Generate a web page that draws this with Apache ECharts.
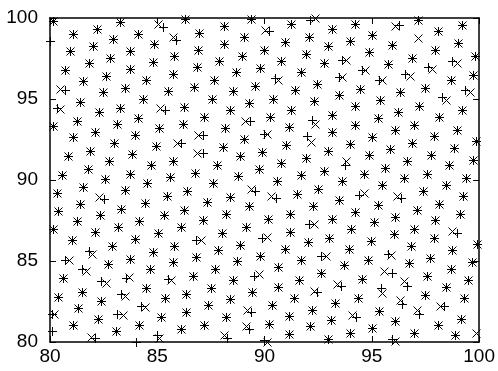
<!DOCTYPE html>
<html>
<head>
<meta charset="utf-8">
<script src="https://cdn.jsdelivr.net/npm/echarts@6/dist/echarts.min.js"></script>
<style>
  html, body { margin: 0; padding: 0; background: #fff; }
  #chart { width: 498px; height: 371px; }
</style>
</head>
<body>
<div id="chart"></div>
<script>
// Points where the "+" and "x" samples coincide
const sharedPts = [
  [80.15,99.79],[81.08,99.03],[82.17,99.32],[83.25,99.75],[84.10,99.03],[86.29,99.96],[82.01,98.29],[82.94,98.70],
  [80.93,97.94],[83.71,97.94],[84.87,98.40],[81.82,97.22],[82.78,97.53],[80.70,96.77],[83.71,96.85],[84.79,97.26],
  [85.80,97.63],[81.55,96.09],[82.63,96.44],[84.49,96.19],[85.72,96.56],[82.47,95.41],[83.48,95.68],[85.49,95.47],
  [89.36,99.94],[88.09,99.48],[91.22,99.65],[86.96,99.07],[89.05,98.83],[92.06,98.83],[88.09,98.41],[90.94,98.52],
  [92.95,98.25],[86.88,98.04],[89.98,98.04],[88.97,97.67],[91.91,97.80],[87.89,97.32],[90.78,97.32],[92.76,97.22],
  [86.85,96.98],[89.79,96.91],[88.69,96.67],[91.68,96.67],[87.66,96.15],[92.45,95.94],[86.70,95.74],[89.56,95.82],
  [88.51,95.51],[91.40,95.53],
  [93.15,99.32],[94.23,99.65],[97.17,99.90],[99.18,99.59],[95.00,98.97],[98.10,99.17],[94.00,98.56],[99.03,98.46],
  [95.93,98.35],[94.85,97.88],[97.94,98.04],[99.80,97.63],[96.86,97.53],[95.74,97.18],[98.71,96.19],[99.72,96.50],
  [94.46,95.62],[97.48,95.68],[96.32,95.41],[93.46,95.27],
  [81.39,94.81],[84.33,95.02],[83.25,94.44],[86.26,94.48],[80.15,93.31],[81.24,93.66],[82.29,94.20],[84.10,93.83],
  [83.12,93.46],[85.10,93.21],[86.22,93.46],[81.05,92.63],[82.09,92.96],[83.94,92.75],[82.97,92.28],[84.92,92.07],
  [81.86,91.81],[83.84,91.60],[80.85,91.46],[82.75,91.15],[84.72,90.94],[85.72,91.15],[81.78,90.70],[83.71,90.37],
  [80.54,90.33],[82.55,90.08],[85.57,90.16],
  [87.53,95.02],[90.41,95.02],[89.28,94.75],[92.30,94.85],[88.40,94.34],[91.24,94.34],[87.19,93.86],[90.26,93.86],
  [88.15,93.21],[91.14,93.25],[89.02,92.55],[93.13,92.96],[90.98,92.14],[88.04,92.01],[89.90,91.73],[88.86,91.46],
  [91.91,91.36],[92.95,91.81],[90.78,91.05],[87.78,90.90],[89.74,90.70],[86.76,90.43],[88.74,90.22],[91.68,90.33],
  [92.76,90.53],[90.56,89.93],
  [95.39,94.96],[94.23,94.54],[96.24,94.20],[97.20,94.54],[99.18,94.34],[93.15,94.03],[95.28,93.83],[98.13,93.86],
  [94.20,93.37],[96.06,93.10],[96.98,93.37],[98.95,93.10],[95.00,92.63],[97.91,92.69],[99.87,92.38],[94.00,92.22],
  [95.86,91.93],[96.89,92.28],[98.84,91.98],[94.88,91.56],[97.76,91.56],[96.63,91.19],[99.72,91.25],[95.62,90.74],
  [98.59,90.90],[94.62,90.37],[97.55,90.37],[93.61,89.93],[96.52,90.12],[99.41,90.12],
  [84.52,89.83],[81.52,89.57],[83.48,89.36],[80.34,89.20],[85.44,89.03],[86.38,89.31],[81.39,88.54],[84.45,88.58],
  [80.39,88.06],[83.33,88.21],[86.26,88.17],[82.35,87.86],[85.29,87.86],[81.24,87.44],[84.14,87.44],[80.15,86.98],
  [83.17,87.10],[86.11,87.10],[82.09,86.77],[85.03,86.73],[81.01,86.31],[83.94,86.36],[82.91,85.94],[85.80,85.94],
  [84.79,85.53],[83.71,85.12],[82.71,84.83],[85.72,84.91],
  [87.61,89.83],[92.48,89.44],[88.40,88.95],[91.49,89.15],[87.32,88.62],[89.28,88.37],[92.26,88.37],[88.20,87.92],
  [91.18,87.92],[87.11,87.51],[90.16,87.59],[89.13,87.10],[91.18,86.77],[88.00,86.73],[92.02,86.15],[92.99,86.42],
  [88.86,86.01],[87.84,85.65],[90.94,85.74],[86.81,85.25],[89.79,85.28],[88.71,84.98],[91.68,85.04],
  [95.47,89.71],[98.44,89.71],[97.36,89.30],[99.26,89.03],[93.46,88.74],[95.28,88.48],[98.13,88.54],[94.20,88.00],
  [97.09,88.12],[99.10,87.92],[93.13,87.61],[96.09,87.72],[95.08,87.38],[97.94,87.51],[94.05,86.98],[96.98,86.98],
  [96.01,86.69],[94.97,86.21],[97.91,86.42],[99.92,86.07],[93.95,85.74],[96.83,85.94],[98.75,85.70],[97.71,85.19],
  [94.82,85.04],[93.69,84.77],[96.71,84.88],[99.68,84.91],
  [84.64,84.52],[80.62,83.96],[80.39,82.75],[81.47,83.09],[84.49,83.33],[85.34,82.72],[82.40,82.55],[86.36,82.96],
  [81.31,82.10],[82.24,81.44],[85.18,81.52],[86.36,81.87],[81.08,81.02],[84.14,81.02],[83.06,80.65],[86.11,80.82],
  [87.69,84.52],[90.63,84.60],[92.61,84.26],[86.65,84.05],[88.55,83.85],[91.60,83.85],[87.50,83.33],[90.63,83.37],
  [89.43,83.09],[88.40,82.67],[91.37,82.72],[87.38,82.26],[90.36,82.26],[92.22,81.99],[88.20,81.52],[91.14,81.58],
  [87.19,81.07],[90.21,81.11],[92.11,80.96],[91.14,80.49],[92.95,80.20],
  [98.69,84.52],[94.54,83.91],[97.55,84.05],[98.44,83.37],[99.49,83.85],[94.35,82.72],[97.48,82.92],[93.30,82.41],
  [99.30,82.72],[95.35,81.94],[93.09,81.38],[99.15,81.44],[96.09,81.30],[98.10,81.02],[95.00,80.86],[94.00,80.56],
  [96.98,80.56],[98.87,80.41]
];

// "+" samples that sit apart from their "x" partner
const plusOnlyPts = [
  [85.26,99.46],[85.88,98.66],[80.70,95.53],[80.02,98.56],
  [92.14,99.90],[90.21,99.17],[90.49,96.30],
  [96.27,99.59],[93.61,97.43],[98.75,97.32],[94.54,96.81],[97.60,96.98],[93.46,96.36],[95.31,96.19],[96.55,96.56],[99.36,95.53],
  [80.31,94.44],[85.38,94.34],[86.11,92.28],
  [89.33,93.66],[92.22,93.72],[87.11,92.75],[89.98,92.84],[91.99,92.69],[87.11,91.67],
  [98.25,95.10],[93.77,90.94],
  [82.51,88.83],[81.82,85.59],[80.70,85.08],
  [89.55,89.30],[90.52,88.91],[92.06,87.30],[86.81,86.31],[89.90,86.42],[92.64,85.33],
  [94.42,89.09],[96.37,88.89],[98.99,86.73],[95.74,85.45],
  [81.47,84.52],[82.40,83.78],[83.53,83.95],[85.49,83.91],[83.33,82.96],[80.08,81.73],[83.12,81.73],[84.26,82.20],
  [80.08,80.65],[82.09,80.25],[84.98,80.45],[83.99,80.00],
  [89.51,84.05],[92.45,83.09],[89.36,81.85],[89.28,80.78],[88.25,80.25],[89.98,80.10],
  [95.93,84.26],[93.54,83.43],[96.63,83.43],[95.43,83.33],[96.39,82.35],[98.38,82.20],[97.20,81.73],[94.26,81.52],[95.93,80.20]
];

// "x" samples that sit apart from their "+" partner
const crossOnlyPts = [
  [85.03,99.60],[85.72,98.80],[80.46,95.62],
  [92.33,99.99],[90.02,99.28],[90.64,96.19],
  [96.09,99.48],[97.14,98.77],[93.80,97.43],[98.95,97.22],[94.70,96.77],[97.79,96.85],[93.61,96.36],[95.47,96.15],[96.78,96.40],[99.57,95.41],
  [80.46,94.40],[85.14,94.44],[85.91,92.28],
  [89.08,93.66],[92.33,93.46],[86.88,92.75],[90.13,92.84],[92.17,92.35],[86.85,91.67],
  [98.44,94.96],[93.80,91.19],
  [82.29,88.95],[81.98,85.45],[80.90,85.04],
  [89.36,89.44],[90.32,88.99],[92.30,87.30],[87.04,86.31],[90.13,86.48],[92.84,85.33],
  [94.62,89.20],[96.16,88.99],[98.75,86.83],[95.90,85.38],
  [81.67,84.40],[82.60,83.64],[83.68,83.99],[85.65,83.85],[83.48,82.81],[80.19,81.73],[83.40,81.64],[84.45,82.14],
  [81.89,80.28],[85.07,80.25],
  [89.74,84.20],[92.30,83.17],[89.20,81.99],[89.13,80.96],[88.09,80.41],[90.12,80.00],
  [95.55,84.36],[93.38,83.58],[96.52,83.74],[95.47,83.02],[96.32,82.61],[98.18,82.20],[97.09,81.99],[94.07,81.69],[99.87,80.56],[96.06,80.04]
];

const xTickValues = [80, 85, 90, 95, 100];
const yTickValues = [80, 85, 90, 95, 100];

const plusData = sharedPts.concat(plusOnlyPts);
const crossData = sharedPts.concat(crossOnlyPts);

const INK = '#000';
const HALF = 4.5;

function markerItem(kind) {
  return function (params, api) {
    const p = api.coord([api.value(0), api.value(1)]);
    const cx = Math.round(p[0]) + 0.5;
    const cy = Math.round(p[1]) + 0.5;
    const st = { stroke: INK, lineWidth: 1, fill: null };
    let segs;
    if (kind === 'plus') {
      segs = [[cx - HALF, cy, cx + HALF, cy], [cx, cy - HALF, cx, cy + HALF]];
    } else {
      const h = HALF - 0.5;
      segs = [[cx - h, cy - h, cx + h, cy + h], [cx - h, cy + h, cx + h, cy - h]];
    }
    return {
      type: 'group',
      children: segs.map(s => ({
        type: 'line',
        shape: { x1: s[0], y1: s[1], x2: s[2], y2: s[3] },
        style: st
      }))
    };
  };
}

function axisCommon(extra) {
  return Object.assign({
    type: 'value',
    min: 80,
    max: 100,
    interval: 5,
    axisLine: { show: true, onZero: false, lineStyle: { color: INK, width: 1.5 } },
    axisTick: { show: true, inside: true, length: 6, lineStyle: { color: INK, width: 1 } },
    splitLine: { show: false },
    axisLabel: {
      color: INK,
      fontSize: 19,
      fontFamily: '"Liberation Sans", Arial, sans-serif'
    }
  }, extra);
}

const chart = echarts.init(document.getElementById('chart'), null, { renderer: 'canvas' });
chart.setOption({
  animation: false,
  backgroundColor: '#fff',
  grid: { left: 50, right: 17, top: 18, bottom: 29 },
  xAxis: [
    axisCommon({ position: 'bottom', axisLabel: {
      color: INK, fontSize: 19, margin: 5,
      fontFamily: '"Liberation Sans", Arial, sans-serif',
      formatter: v => (xTickValues.indexOf(v) >= 0 ? String(v) : '')
    } }),
    axisCommon({ position: 'top', axisLabel: { show: false } })
  ],
  yAxis: [
    axisCommon({ position: 'left', axisLabel: {
      color: INK, fontSize: 19, margin: 12,
      fontFamily: '"Liberation Sans", Arial, sans-serif',
      formatter: v => (yTickValues.indexOf(v) >= 0 ? String(v) : '')
    } }),
    axisCommon({ position: 'right', axisLabel: { show: false } })
  ],
  series: [
    {
      name: 'plus',
      type: 'custom',
      xAxisIndex: 0,
      yAxisIndex: 0,
      clip: false,
      renderItem: markerItem('plus'),
      data: plusData
    },
    {
      name: 'cross',
      type: 'custom',
      xAxisIndex: 0,
      yAxisIndex: 0,
      clip: false,
      renderItem: markerItem('cross'),
      data: crossData
    }
  ]
});
</script>
</body>
</html>
